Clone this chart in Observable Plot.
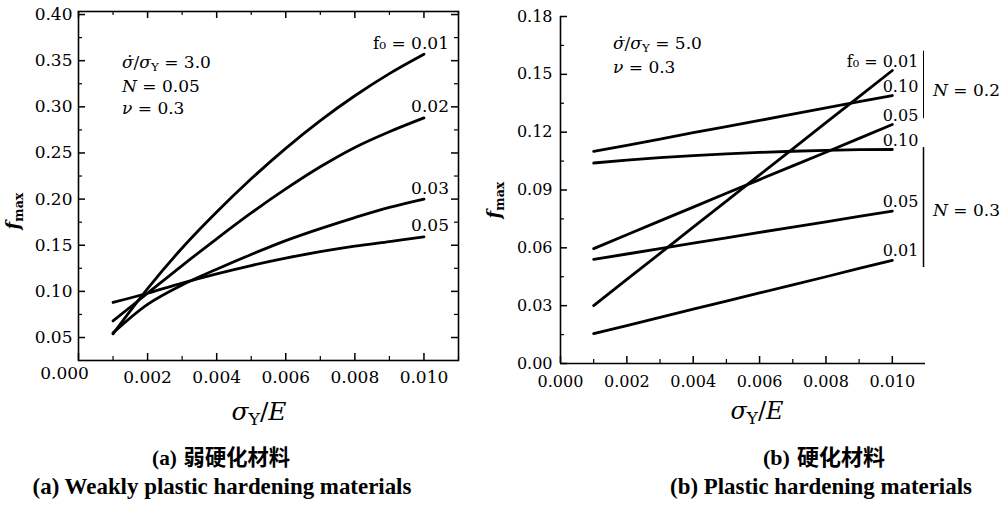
<!DOCTYPE html>
<html>
<head>
<meta charset="utf-8">
<script src="https://cdn.jsdelivr.net/npm/d3@7"></script>
<script src="https://cdn.jsdelivr.net/npm/@observablehq/plot@0.6"></script>
<style>
  html, body { margin: 0; padding: 0; background: #fff; }
  #root { position: relative; width: 1003px; height: 507px; overflow: hidden; font-family: "DejaVu Serif", serif; color: #000; }
  #root svg { position: absolute; overflow: visible; }
  .abs { position: absolute; white-space: nowrap; line-height: 1; }
  .abs sub { font-size: 0.7em; vertical-align: -0.3em; line-height: 0; }
  .cjk { font-family: "Noto Sans CJK SC", sans-serif; font-weight: 700; }
</style>
</head>
<body>
<div id="root"></div>
<script>
// ---------------- data ----------------
const sigmaE = [0.001, 0.002, 0.003, 0.004, 0.005, 0.006, 0.007, 0.008, 0.009, 0.010];

// (a) weakly hardening, N = 0.05, sigma-dot/sigmaY = 3.0
const weakF0 = ["0.01", "0.02", "0.03", "0.05"];
const weakF001 = [0.054, 0.103, 0.147, 0.186, 0.222, 0.255, 0.285, 0.312, 0.336, 0.357];
const weakF002 = [0.068, 0.098, 0.128, 0.157, 0.185, 0.211, 0.235, 0.256, 0.273, 0.288];
const weakF003 = [0.055, 0.086, 0.107, 0.124, 0.140, 0.155, 0.168, 0.180, 0.191, 0.200];
const weakF005 = [0.088, 0.098, 0.109, 0.119, 0.128, 0.136, 0.143, 0.149, 0.154, 0.159];
const weakLabels = ["f\u2080 = 0.01", "0.02", "0.03", "0.05"];

// (b) hardening, sigma-dot/sigmaY = 5.0
const hardGroups = ["N = 0.2", "N = 0.2", "N = 0.2", "N = 0.3", "N = 0.3", "N = 0.3"];
const hardF0 = ["0.01", "0.10", "0.05", "0.10", "0.05", "0.01"];
const hardN2F001 = [0.0300, 0.0436, 0.0571, 0.0707, 0.0842, 0.0978, 0.1113, 0.1249, 0.1384, 0.1520];
const hardN2F010 = [0.1100, 0.1132, 0.1164, 0.1197, 0.1229, 0.1261, 0.1293, 0.1326, 0.1358, 0.1390];
const hardN2F005 = [0.0596, 0.0668, 0.0740, 0.0811, 0.0883, 0.0954, 0.1025, 0.1096, 0.1168, 0.1240];
const hardN3F010 = [0.1040, 0.1055, 0.1068, 0.1078, 0.1087, 0.1095, 0.1101, 0.1106, 0.1109, 0.1110];
const hardN3F005 = [0.0540, 0.0568, 0.0596, 0.0624, 0.0652, 0.0680, 0.0707, 0.0735, 0.0763, 0.0790];
const hardN3F001 = [0.0155, 0.0197, 0.0239, 0.0282, 0.0324, 0.0366, 0.0408, 0.0450, 0.0493, 0.0535];
const hardLabels = ["f\u2080 = 0.01", "0.10", "0.05", "0.10", "0.05", "0.01"];

// ticks
const xTicksMajor = [0, 0.002, 0.004, 0.006, 0.008, 0.010];
const xTicksMinor = [0.001, 0.003, 0.005, 0.007, 0.009, 0.011];
const xTickLabels = ["0.000", "0.002", "0.004", "0.006", "0.008", "0.010"];
const weakYTicks = [0.05, 0.10, 0.15, 0.20, 0.25, 0.30, 0.35, 0.40];
const weakYTickLabels = ["0.05", "0.10", "0.15", "0.20", "0.25", "0.30", "0.35", "0.40"];
const weakYMinor = [0.075, 0.125, 0.175, 0.225, 0.275, 0.325, 0.375];
const hardYTicks = [0, 0.03, 0.06, 0.09, 0.12, 0.15, 0.18];
const hardYTickLabels = ["0.00", "0.03", "0.06", "0.09", "0.12", "0.15", "0.18"];
const hardYMinor = [0.015, 0.045, 0.075, 0.105, 0.135, 0.165];

// ---------------- build tables ----------------
const weakSeries = [weakF001, weakF002, weakF003, weakF005];
const weakRows = weakSeries.flatMap((vals, i) => vals.map((v, j) => ({x: sigmaE[j], y: v, f0: weakF0[i]})));
const weakEnds = weakSeries.map((vals, i) => ({x: sigmaE[sigmaE.length - 1], y: vals[vals.length - 1], label: weakLabels[i]}));

const hardSeries = [hardN2F001, hardN2F010, hardN2F005, hardN3F010, hardN3F005, hardN3F001];
const hardRows = hardSeries.flatMap((vals, i) => vals.map((v, j) => ({x: sigmaE[j], y: v, key: hardGroups[i] + "/" + hardF0[i]})));
const hardEnds = hardSeries.map((vals, i) => ({x: sigmaE[sigmaE.length - 1], y: vals[vals.length - 1], label: hardLabels[i], group: hardGroups[i]}));

const root = document.getElementById("root");
const FONT = "DejaVu Serif";
const fmtX = d => xTickLabels[xTicksMajor.findIndex(t => Math.abs(t - d) < 1e-9)];

// ---------------- (a) left panel ----------------
{
  const W = 470, H = 395, ML = 78, MR = 12, MT = 11, MB = 35;
  const PW = W - ML - MR, PH = H - MT - MB;
  const fmtY = d => weakYTickLabels[weakYTicks.findIndex(t => Math.abs(t - d) < 1e-9)];
  const chart = Plot.plot({
    width: W, height: H, marginLeft: ML, marginRight: MR, marginTop: MT, marginBottom: MB,
    style: {fontFamily: FONT, fontSize: "17px", color: "#000", background: "transparent", overflow: "visible"},
    x: {domain: [0, 0.011], axis: null},
    y: {domain: [0.0251, 0.4033], axis: null},
    marks: [
      Plot.frame({stroke: "#000", strokeWidth: 1.6}),
      // inward ticks, bottom & top
      Plot.tickX(xTicksMajor, {x: d => d, insetTop: PH - 7, strokeWidth: 1.5}),
      Plot.tickX(xTicksMinor, {x: d => d, insetTop: PH - 4, strokeWidth: 1.2}),
      Plot.tickX(xTicksMajor, {x: d => d, insetBottom: PH - 7, strokeWidth: 1.5}),
      Plot.tickX(xTicksMinor, {x: d => d, insetBottom: PH - 4, strokeWidth: 1.2}),
      // inward ticks, left & right
      Plot.tickY(weakYTicks, {y: d => d, insetRight: PW - 7, strokeWidth: 1.5}),
      Plot.tickY(weakYMinor, {y: d => d, insetRight: PW - 4, strokeWidth: 1.2}),
      Plot.tickY(weakYTicks, {y: d => d, insetLeft: PW - 7, strokeWidth: 1.5}),
      Plot.tickY(weakYMinor, {y: d => d, insetLeft: PW - 4, strokeWidth: 1.2}),
      // tick labels
      Plot.axisY({ticks: weakYTicks, tickSize: 0, tickPadding: 6, tickFormat: fmtY, label: null, fontSize: 17}),
      Plot.axisX({ticks: xTicksMajor.slice(1), tickSize: 0, tickPadding: 10, tickFormat: fmtX, label: null, fontSize: 17}),
      Plot.text([xTicksMajor[0]], {x: d => d, frameAnchor: "bottom", dy: 18, dx: -14, text: d => fmtX(d), fontSize: 17}),
      // curves
      Plot.line(weakRows, {x: "x", y: "y", z: "f0", curve: "catmull-rom", stroke: "#000", strokeWidth: 2.8}),
      Plot.text(weakEnds, {x: "x", y: "y", text: "label", textAnchor: "end", dx: 25, dy: -11, fontSize: 17, fill: "#000"})
    ]
  });
  chart.style.left = "0px"; chart.style.top = "0px";
  root.appendChild(chart);
}

// ---------------- (b) right panel ----------------
{
  const X0 = 490;
  const W = 513, H = 395, ML = 70, MR = 78, MT = 16, MB = 32;
  const PW = W - ML - MR, PH = H - MT - MB;
  const fmtY = d => hardYTickLabels[hardYTicks.findIndex(t => Math.abs(t - d) < 1e-9)];
  const g2 = hardEnds.filter(d => d.group === hardGroups[0]).map(d => d.y);
  const g3 = hardEnds.filter(d => d.group === hardGroups[3]).map(d => d.y);
  const brackets = [
    {y1: d3.max(g2) + 0.010, y2: d3.min(g2) + 0.003, dash: "3,3"},
    {y1: d3.max(g3) + 0.001, y2: d3.min(g3) - 0.0037, dash: null}
  ];
  const chart = Plot.plot({
    width: W, height: H, marginLeft: ML, marginRight: MR, marginTop: MT, marginBottom: MB,
    style: {fontFamily: FONT, fontSize: "16px", color: "#000", background: "transparent", overflow: "visible"},
    x: {domain: [0, 0.011], axis: null},
    y: {domain: [0, 0.18], axis: null},
    marks: [
      Plot.ruleX([0], {stroke: "#000", strokeWidth: 1.6}),
      Plot.ruleY([0], {stroke: "#000", strokeWidth: 1.6}),
      Plot.tickX(xTicksMajor, {x: d => d, insetTop: PH - 7, strokeWidth: 1.5}),
      Plot.tickX(xTicksMinor.slice(0, 5), {x: d => d, insetTop: PH - 4, strokeWidth: 1.2}),
      Plot.tickY(hardYTicks, {y: d => d, insetRight: PW - 7, strokeWidth: 1.5}),
      Plot.tickY(hardYMinor, {y: d => d, insetRight: PW - 4, strokeWidth: 1.2}),
      Plot.axisY({ticks: hardYTicks, tickSize: 0, tickPadding: 8, tickFormat: fmtY, label: null, fontSize: 16}),
      Plot.axisX({ticks: xTicksMajor, tickSize: 0, tickPadding: 12, tickFormat: fmtX, label: null, fontSize: 16}),
      Plot.line(hardRows, {x: "x", y: "y", z: "key", stroke: "#000", strokeWidth: 2.8}),
      Plot.text(hardEnds, {x: "x", y: "y", text: "label", textAnchor: "end", dx: 26, dy: -9, fontSize: 16, fill: "#000"}),
      Plot.ruleX(brackets, {x: () => 0.011, y1: "y1", y2: "y2", dx: -2, stroke: "#000", strokeWidth: d => d.dash ? 1 : 1.5, strokeDasharray: d => d.dash})
    ]
  });
  chart.style.left = X0 + "px"; chart.style.top = "0px";
  root.appendChild(chart);
}

// ---------------- html text (math labels & captions) ----------------
function place(html, x, y, {anchor = "start", size = 17, family = FONT, weight = "normal", fit = null, rotate = 0, cls = ""} = {}) {
  const el = document.createElement("div");
  el.className = "abs " + cls;
  el.innerHTML = html;
  el.style.fontSize = size + "px";
  el.style.fontFamily = family;
  el.style.fontWeight = weight;
  el.style.left = "0px"; el.style.top = "0px";
  root.appendChild(el);
  if (fit) {
    const w = el.getBoundingClientRect().width;
    el.style.fontSize = (size * fit / w) + "px";
  }
  const tx = anchor === "middle" ? "-50%" : anchor === "end" ? "-100%" : "0";
  el.style.left = x + "px"; el.style.top = y + "px";
  el.style.transform = `translate(${tx}, -50%)` + (rotate ? ` rotate(${rotate}deg)` : "");
  return el;
}
const sdot = "<i>\u03C3\u0307</i>";
const sigY = "<i>\u03C3</i><sub>Y</sub>";
// left annotations
place(`${sdot}/${sigY} = 3.0`, 122, 62, {size: 17});
place(`<i>N</i> = 0.05`, 122, 86, {size: 17});
place(`<i>\u03BD</i> = 0.3`, 122, 108, {size: 17});
// right annotations
place(`${sdot}/${sigY} = 5.0`, 613, 43, {size: 17});
place(`<i>\u03BD</i> = 0.3`, 613, 67, {size: 17});
place(`<i>N</i> = 0.2`, 933, 90, {size: 17});
place(`<i>N</i> = 0.3`, 933, 210, {size: 17});
// y labels
place(`<b><i>f</i><sub>max</sub></b>`, 13, 211, {anchor: "middle", size: 18, rotate: -90});
place(`<b><i>f</i><sub>max</sub></b>`, 494, 200, {anchor: "middle", size: 18, rotate: -90});
// x labels
place(`${sigY}/<i>E</i>`, 259, 412, {anchor: "middle", size: 17, fit: 55});
place(`${sigY}/<i>E</i>`, 757, 412, {anchor: "middle", size: 17, fit: 53});
// captions
place(`<span style="font-family:'Liberation Serif';font-weight:700">(a)</span> <span class="cjk">弱硬化材料</span>`, 221, 457, {anchor: "middle", size: 18, fit: 138});
place(`(a) Weakly plastic hardening materials`, 222, 487, {anchor: "middle", size: 20, family: "Liberation Serif", weight: 700, fit: 379});
place(`<span style="font-family:'Liberation Serif';font-weight:700">(b)</span> <span class="cjk">硬化材料</span>`, 824, 457, {anchor: "middle", size: 18, fit: 122});
place(`(b) Plastic hardening materials`, 821, 487, {anchor: "middle", size: 20, family: "Liberation Serif", weight: 700, fit: 302});
</script>
</body>
</html>
